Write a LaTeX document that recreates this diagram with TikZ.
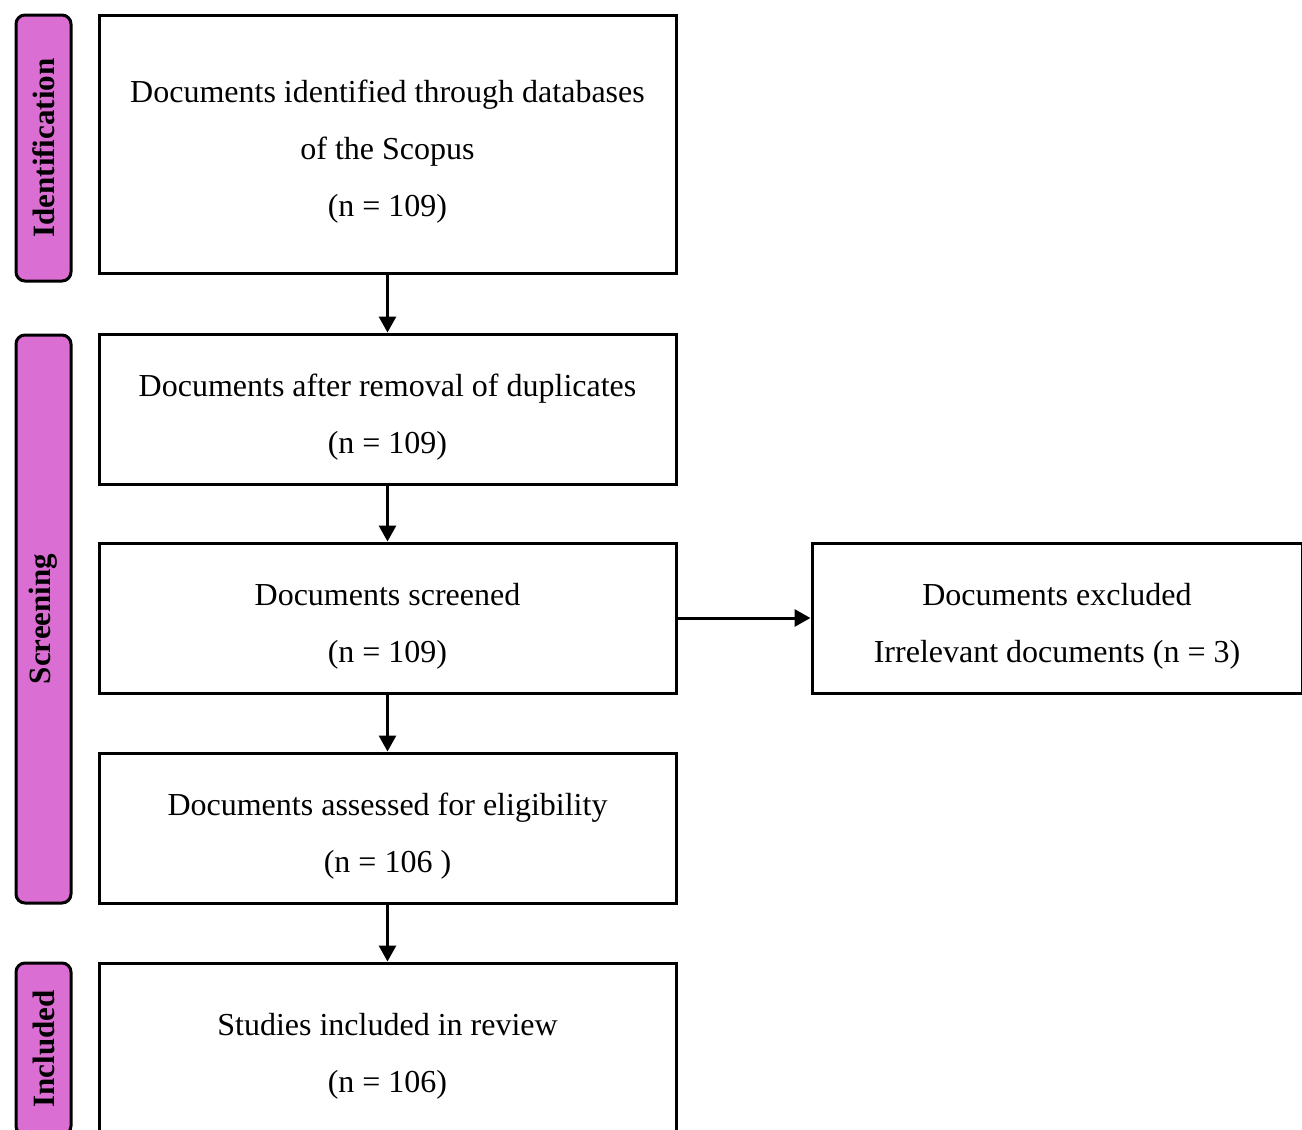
\documentclass[tikz,border=0pt]{standalone}
\usepackage{fontspec}
\setmainfont{Liberation Serif}
\usetikzlibrary{arrows.meta, positioning}
\definecolor{phasefill}{RGB}{218,110,210}
\newcommand{\tp}{\rule{0pt}{38pt}}
\tikzset{
    box/.style={draw, line width=3pt, rectangle, minimum width=577, align=center,
      font=\fontsize{32}{57}\selectfont},
    phase/.style={draw, line width=3pt, fill=phasefill, rounded corners=9pt,
      rotate=90, minimum height=55, inner sep=0pt, font=\fontsize{31}{34}\selectfont\bfseries},
    arr/.style={line width=3pt, -{Triangle[length=16pt, width=17pt]}},
}
\begin{document}
\begin{tikzpicture}[x=1pt, y=-1pt]
    \path[use as bounding box, clip] (0,0) rectangle (1302,1130);

    % phases
    \node[phase, minimum width=266] (idf) at (43.5,148) {Identification};
    \node[phase, minimum width=568] (scr) at (43.5,619) {Screening};
    \node[phase, minimum width=172] (inc) at (43.5,1049) {Included};

    % boxes
    \node[box, minimum height=258] (b1) at (387.5,144)
      {\tp Documents identified through databases\\of the Scopus\\(n = 109)};
    \node[box, minimum height=150] (b2) at (387.5,409)
      {\tp Documents after removal of duplicates\\(n = 109)};
    \node[box, minimum height=150] (b3) at (387.5,618)
      {\tp Documents screened\\(n = 109)};
    \node[box, minimum height=150] (b4) at (387.5,828)
      {\tp Documents assessed for eligibility\\(n = 106 )};
    \node[box, minimum height=170] (b5) at (387.5,1048)
      {\tp Studies included in review\\(n = 106)};
    \node[box, minimum width=490, minimum height=150] (ex) at (1057,618)
      {\tp Documents excluded\\Irrelevant documents (n = 3)};

    \draw[arr] (b1) -- (b2);
    \draw[arr] (b2) -- (b3);
    \draw[arr] (b3) -- (b4);
    \draw[arr] (b4) -- (b5);
    \draw[arr] (b3) -- (ex);
\end{tikzpicture}
\end{document}
